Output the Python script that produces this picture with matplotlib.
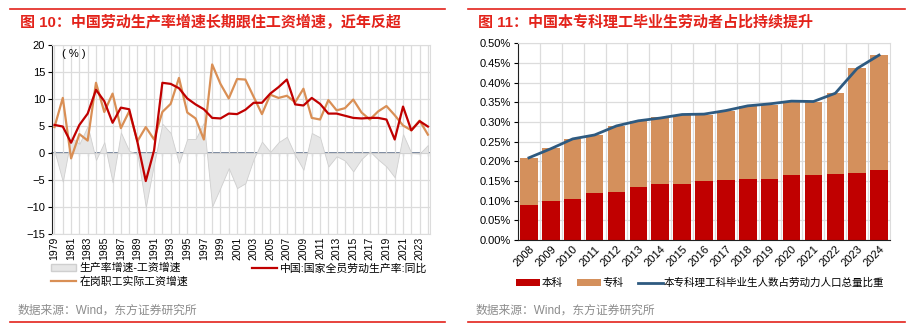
import matplotlib
matplotlib.use("Agg")
import numpy as np
import matplotlib.pyplot as plt
from matplotlib.patches import Patch
from matplotlib.lines import Line2D
from matplotlib.ticker import FuncFormatter

plt.rcParams['font.family'] = ['Liberation Sans', 'Noto Sans CJK SC']

# ---------- 数据：图 10 ----------
years_l = list(range(1979, 2025))
productivity = [5.2, 4.9, 1.9, 5.2, 7.3, 11.7, 9.6, 5.6, 8.4, 8.1,
                2.0, -5.2, 0.5, 13.0, 12.8, 12.0, 10.1, 9.0, 8.1, 6.5,
                6.4, 7.3, 7.2, 8.0, 9.3, 9.3, 11.0, 12.2, 13.6, 9.0,
                8.8, 10.2, 9.1, 7.3, 7.3, 6.9, 6.5, 6.4, 6.5, 6.5,
                6.2, 2.5, 8.6, 4.2, 5.9, 4.9]
wage = [4.8, 10.2, -1.0, 3.5, 2.3, 13.0, 7.6, 11.0, 4.6, 7.7,
        2.2, 4.8, 2.5, 7.6, 9.1, 13.9, 7.5, 6.4, 2.5, 16.4,
        12.8, 10.1, 13.7, 13.6, 10.4, 7.2, 10.8, 10.2, 10.6, 9.4,
        11.9, 6.5, 6.2, 9.8, 7.9, 8.3, 9.9, 7.5, 6.2, 7.7,
        8.7, 7.0, 5.1, 4.2, 6.0, 3.4]
gap = [0.4, -5.3, 2.9, 1.7, 5.0, -1.3, 2.0, -5.4, 3.8, 0.4,
       -0.2, -10.0, -2.0, 5.4, 3.7, -1.9, 2.6, 2.6, 5.6, -9.9,
       -6.4, -2.8, -6.5, -5.6, -1.1, 2.1, 0.2, 2.0, 3.0, -0.4,
       -3.1, 3.7, 2.9, -2.5, -0.6, -1.4, -3.4, -1.1, 0.3, -1.2,
       -2.5, -4.5, 3.5, 0.0, -0.1, 1.5]

# ---------- 数据：图 11 ----------
years_r = [str(y) for y in range(2008, 2025)]
benke = [0.090, 0.100, 0.105, 0.119, 0.122, 0.134, 0.143, 0.143, 0.150,
         0.153, 0.156, 0.156, 0.165, 0.164, 0.168, 0.171, 0.179]
zhuanke = [0.119, 0.134, 0.152, 0.148, 0.167, 0.169, 0.169, 0.174, 0.169,
           0.176, 0.185, 0.188, 0.185, 0.187, 0.205, 0.265, 0.291]
share = [0.209, 0.232, 0.257, 0.267, 0.290, 0.303, 0.310, 0.319, 0.320,
         0.329, 0.341, 0.346, 0.353, 0.352, 0.373, 0.436, 0.470]

W, H = 916, 333
fig = plt.figure(figsize=(W / 100, H / 100), dpi=100)


def fx(px):
    return px / W


def fy(py):
    return 1 - py / H


RED_TITLE = '#E3231B'
GRID = '#DCDCDC'
SRC = '#8C8C8C'
C_RED = '#C00000'
C_ORANGE = '#D98F55'
C_TAN = '#D4905C'
C_BLUE = '#2E5A80'

# 标题、分隔线、来源
for x0, x1, title in [(10, 445, '图 10：中国劳动生产率增速长期跟住工资增速，近年反超'),
                      (468, 905, '图 11：中国本专科理工毕业生劳动者占比持续提升')]:
    fig.add_artist(Line2D([fx(x0), fx(x1)], [fy(9), fy(9)], color=RED_TITLE, lw=1.2))
    fig.add_artist(Line2D([fx(x0), fx(x1)], [fy(322), fy(322)], color=RED_TITLE, lw=1.2))
    fig.text(fx(x0 + 10), fy(22), title, color=RED_TITLE, fontsize=10.8,
             fontweight='bold', va='center', ha='left')
    fig.text(fx(x0 + 8), fy(311), '数据来源：Wind，东方证券研究所', color=SRC,
             fontsize=8.5, va='center', ha='left')

# ---------- 左图 ----------
ax = fig.add_axes([fx(52), fy(234), fx(430 - 52), (234 - 45) / H])
ax.fill_between(years_l, 0, gap, color='#E6E6E6', edgecolor='#CFCFCF', lw=0.6, zorder=2)
ax.plot(years_l, productivity, color=C_RED, lw=1.6, zorder=4)
ax.plot(years_l, wage, color=C_ORANGE, lw=1.6, zorder=3)
ax.set_ylim(-15, 20)
ax.set_yticks(range(-15, 21, 5))
ax.set_xlim(1978.7, 2024.25)
ax.set_xticks(years_l)
ax.set_xticklabels([str(y) if (y - 1979) % 2 == 0 else '' for y in years_l],
                   rotation=90, fontsize=7.5)
ax.tick_params(axis='x', length=0, pad=2)
ax.tick_params(axis='y', labelsize=8, length=3, width=0.8, pad=2)
ax.grid(True, color=GRID, lw=0.9, zorder=0)
ax.set_axisbelow(True)
for s in ['top', 'right', 'bottom']:
    ax.spines[s].set_color(GRID)
ax.spines['left'].set_color('#202020')
ax.text(1979.9, 18.3, '( % )', fontsize=8, ha='left', va='center')

zero = ax.secondary_xaxis(15 / 35)
zero.set_xticks(years_l)
zero.set_xticklabels([])
zero.tick_params(length=2.5, width=0.8, color='#44546A')
zero.spines['bottom'].set_color('#5A6B86')
zero.spines['bottom'].set_linewidth(1.2)

handles = [Patch(facecolor='#E6E6E6', edgecolor='#CFCFCF', label='生产率增速-工资增速'),
           Line2D([], [], color=C_ORANGE, lw=1.6, label='在岗职工实际工资增速'),
           Line2D([], [], color=C_RED, lw=1.6, label='中国:国家全员劳动生产率:同比')]
fig.legend(handles=handles, loc='upper left', bbox_to_anchor=(fx(51), fy(263)),
           ncol=2, frameon=False, fontsize=7.8, handlelength=2.3, handleheight=0.6,
           handletextpad=0.3, columnspacing=5.9, labelspacing=0.25, borderaxespad=0,
           borderpad=0)

# ---------- 右图 ----------
ax2 = fig.add_axes([fx(518), fy(240), fx(890 - 518), (240 - 43.3) / H])
x = np.arange(len(years_r))
ax2.bar(x, benke, width=0.8, color=C_RED, zorder=2)
ax2.bar(x, zhuanke, width=0.8, bottom=benke, color=C_TAN, zorder=2)
ax2.plot(x, share, color=C_BLUE, lw=2, zorder=3)
ax2.set_ylim(0, 0.5)
ax2.set_yticks(np.arange(0, 0.501, 0.05))
ax2.yaxis.set_major_formatter(FuncFormatter(lambda v, p: f'{v:.2f}%'))
ax2.set_xlim(-0.5, len(years_r) - 0.5)
ax2.set_xticks(x)
ax2.set_xticklabels(years_r, rotation=45, ha='right', rotation_mode='anchor', fontsize=8)
ax2.set_xticks(x[:-1] + 0.5, minor=True)
ax2.tick_params(axis='x', which='both', length=0, pad=3)
ax2.tick_params(axis='y', labelsize=8, length=3, width=0.8, pad=2)
ax2.grid(True, axis='y', color=GRID, lw=0.9, zorder=0)
ax2.grid(True, axis='x', which='minor', color=GRID, lw=0.9, zorder=0)
ax2.set_axisbelow(True)
for s in ['top', 'right']:
    ax2.spines[s].set_color(GRID)
ax2.spines['left'].set_color('#202020')
ax2.spines['bottom'].set_color('#202020')

handles2 = [Patch(facecolor=C_RED, label='本科'),
            Patch(facecolor=C_TAN, label='专科'),
            Line2D([], [], color=C_BLUE, lw=2, label='本专科理工科毕业生人数占劳动力人口总量比重')]
fig.legend(handles=handles2, loc='center left', bbox_to_anchor=(fx(516), fy(283)), ncol=3,
           frameon=False, fontsize=7.6, handlelength=2.3, handleheight=0.6,
           handletextpad=0.1, columnspacing=1.4, borderaxespad=0, borderpad=0)

fig.savefig('out.png', dpi=100)
